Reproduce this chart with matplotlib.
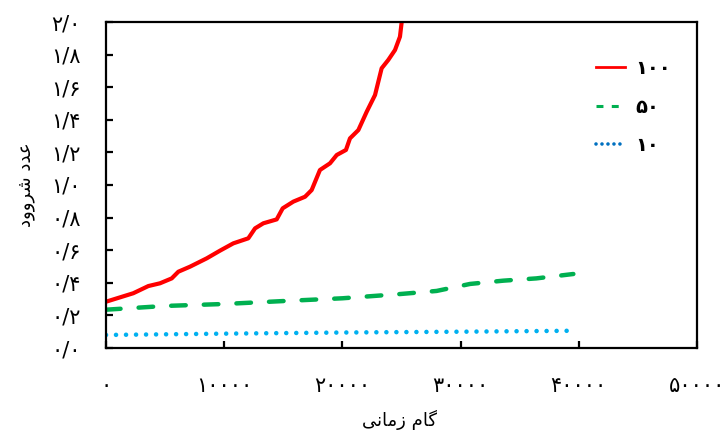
import matplotlib
matplotlib.use("Agg")
import matplotlib.pyplot as plt
from matplotlib.lines import Line2D

plt.rcParams['font.family'] = ['DejaVu Sans']
plt.rcParams['lines.scale_dashes'] = False

# ---- data ----
x_100 = [0, 2310, 3580, 4570, 5560, 6120, 7110, 8520, 9640, 10770, 12040, 12610,
         13310, 14440, 14950, 15850, 16840, 17400, 18100, 18950, 19520, 20300,
         20640, 21350, 22060, 22760, 23320, 23880, 24450, 24870, 25010, 25060]
y_100 = [0.284, 0.336, 0.380, 0.397, 0.427, 0.468, 0.499, 0.550, 0.597, 0.642,
         0.673, 0.734, 0.765, 0.789, 0.857, 0.898, 0.928, 0.969, 1.092, 1.133,
         1.184, 1.215, 1.286, 1.337, 1.450, 1.552, 1.716, 1.767, 1.828, 1.910,
         1.996, 2.05]

x_50 = [0, 5000, 10000, 15000, 20000, 24870, 27970, 30800, 33600, 36400, 39540]
y_50 = [0.235, 0.258, 0.270, 0.288, 0.305, 0.331, 0.350, 0.393, 0.413, 0.427, 0.454]

x_10 = [0, 10000, 20000, 30000, 39800]
y_10 = [0.080, 0.088, 0.095, 0.100, 0.106]

series_labels = ['۱۰۰', '۵۰', '۱۰']
series_colors = ['#FF0000', '#00B050', '#00B0F0']
legend_colors = ['#FF0000', '#00B050', '#0070C0']

x_ticks = [0, 10000, 20000, 30000, 40000, 50000]
x_tick_labels = ['۰', '۱۰۰۰۰', '۲۰۰۰۰', '۳۰۰۰۰', '۴۰۰۰۰', '۵۰۰۰۰']
y_ticks = [0.0, 0.2, 0.4, 0.6, 0.8, 1.0, 1.2, 1.4, 1.6, 1.8, 2.0]
y_tick_labels = ['۰/۰', '۰/۲', '۰/۴', '۰/۶', '۰/۸', '۱/۰', '۱/۲', '۱/۴', '۱/۶', '۱/۸', '۲/۰']

# pre-shaped (visual order) Persian axis titles
x_title = '\uFBFD\uFEE7\uFE8E\uFEE3\uFEAF \uFEE1\uFE8E\uFB94'   # گام زمانی
y_title = '\uFEA9\uFEED\uFEED\uFEAE\uFEB7 \uFEA9\uFEAA\uFECB'   # عدد شروود

# ---- figure ----
fig = plt.figure(figsize=(7.23, 4.32), dpi=100)
ax = fig.add_axes([106/723, 1-348/432, (697-106)/723, (348-22)/432])

ax.plot(x_100, y_100, color=series_colors[0], lw=3.0, solid_capstyle='round',
        solid_joinstyle='round')
ax.plot(x_50, y_50, color=series_colors[1], lw=3.2, linestyle=(0, (10.5, 13.0)),
        dash_capstyle='round')
ax.plot(x_10, y_10, color=series_colors[2], lw=3.3, linestyle=(0, (0.01, 7.2)),
        dash_capstyle='round')

ax.set_xlim(0, 50000)
ax.set_ylim(0, 2.0)
ax.set_xticks(x_ticks)
ax.set_xticklabels(x_tick_labels)
ax.set_yticks(y_ticks)
ax.set_yticklabels(y_tick_labels)

for s in ax.spines.values():
    s.set_linewidth(1.6)
    s.set_color('black')
ax.tick_params(axis='both', direction='in', length=5, width=1.6, labelsize=15,
               colors='black')
ax.tick_params(axis='x', pad=20)
ax.tick_params(axis='y', pad=18)

fig.text(400/723, 1-420/432, x_title, ha='center', va='center', fontsize=13)
fig.text(26/723, 1-185/432, y_title, ha='center', va='center', fontsize=13,
         rotation=90)

handles = [
    Line2D([], [], color=legend_colors[0], lw=2.0),
    Line2D([], [], color=legend_colors[1], lw=2.2, linestyle=(0, (5, 6))),
    Line2D([], [], color=legend_colors[2], lw=2.6, linestyle=(0, (0.01, 4.3)),
           dash_capstyle='round'),
]
leg = ax.legend(handles, series_labels, loc='upper left',
                bbox_to_anchor=(0.8, 0.94), frameon=False, handlelength=1.5,
                handletextpad=0.5, labelspacing=1.0,
                prop={'size': 14, 'weight': 'bold'})

fig.savefig('out.png', dpi=100)
